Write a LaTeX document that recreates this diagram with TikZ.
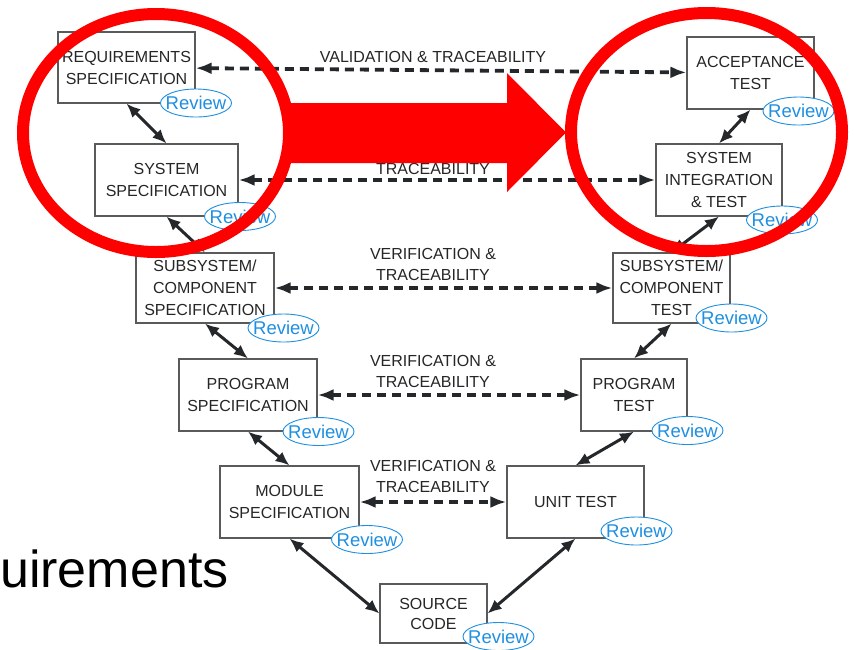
\documentclass[tikz,border=0pt]{standalone}
\usepackage{fontspec}
\setmainfont{Liberation Sans}
\usetikzlibrary{arrows.meta,calc,positioning,shapes.geometric}
\definecolor{vmink}{HTML}{262626}
\definecolor{vmframe}{HTML}{5A5A5A}
\definecolor{vmarrow}{HTML}{25282B}
\definecolor{vmreview}{HTML}{1E8FE1}
\definecolor{vmred}{HTML}{FF0000}
\newcommand{\revtag}{\makebox[0pt]{Review}}
\tikzset{
  stagebox/.style={draw=vmframe,fill=white,line width=1.1pt,minimum height=72pt,
    inner sep=0pt,align=center,text=vmink,font=\fontsize{16}{22}\selectfont},
  reviewtag/.style={ellipse,draw=vmreview,fill=white,line width=0.9pt,
    minimum width=71pt,minimum height=28pt,inner sep=0pt,text=vmreview,
    font=\fontsize{18.5}{20}\selectfont},
  linkarrow/.style={draw=vmarrow,line width=3pt,
    {Latex[length=14pt,width=12pt]}-{Latex[length=14pt,width=12pt]}},
  tracearrow/.style={draw=vmarrow,line width=3.8pt,dash pattern=on 9pt off 6pt,
    {Latex[length=16pt,width=12pt]}-{Latex[length=16pt,width=12pt]}},
  tracelabel/.style={inner sep=0pt,align=center,text=vmink,
    font=\fontsize{16}{21}\selectfont},
  focusring/.style={draw=vmred,line width=12pt},
}

\begin{document}
\begin{tikzpicture}[x=1pt,y=-1pt]
  \path[use as bounding box] (0,0) rectangle (854,649);
  % left leg
  \node[stagebox,minimum width=137pt,minimum height=71pt] (reqspec) at (126.5,67.5) {REQUIREMENTS\\SPECIFICATION};
  \node[stagebox,minimum width=143pt] (sysspec) at (166.5,180) {SYSTEM\\SPECIFICATION};
  \node[stagebox,minimum width=138pt,minimum height=70pt] (subspec) at (205,288) {SUBSYSTEM/\\COMPONENT\\SPECIFICATION};
  \node[stagebox,minimum width=138pt] (progspec) at (248,395) {PROGRAM\\SPECIFICATION};
  \node[stagebox,minimum width=139pt] (modspec) at (289.5,502) {MODULE\\SPECIFICATION};
  % bottom
  \node[stagebox,minimum width=107pt,minimum height=59pt,font=\fontsize{16}{20}\selectfont] (srccode) at (433.5,613.5) {SOURCE\\CODE};
  % right leg
  \node[stagebox,minimum width=127pt] (acctest) at (750.5,73) {ACCEPTANCE\\TEST};
  \node[stagebox,minimum width=126pt] (sysint) at (719,180) {SYSTEM\\INTEGRATION\\\& TEST};
  \node[stagebox,minimum width=117pt,minimum height=70pt] (subtest) at (671.5,288) {SUBSYSTEM/\\COMPONENT\\TEST};
  \node[stagebox,minimum width=106pt] (progtest) at (634,395) {PROGRAM\\TEST};
  \node[stagebox,minimum width=137pt] (unittest) at (575.5,502) {UNIT TEST};

  \foreach \i/\j in {reqspec.south/sysspec.north,sysspec.south/subspec.north,
      subspec.south/progspec.north,progspec.south/modspec.north,modspec.south/srccode.west,
      acctest.south/sysint.north,sysint.south/subtest.north,subtest.south/progtest.north,
      progtest.south/unittest.north,unittest.south/srccode.east}
    {\draw[linkarrow] (\i) -- (\j);}

  \draw[tracearrow] (reqspec) -- (acctest);
  \draw[tracearrow] (sysspec) -- (sysint);
  \draw[tracearrow] (subspec) -- (subtest);
  \draw[tracearrow] (progspec) -- (progtest);
  \draw[tracearrow] (modspec) -- (unittest);
  \node[tracelabel] (valtext) at (433,56.5) {VALIDATION \& TRACEABILITY};
  \node[tracelabel] (systext) at (433,169) {TRACEABILITY};
  \node[tracelabel] (subtext) at (433,264) {VERIFICATION \&\\TRACEABILITY};
  \node[tracelabel] (progtext) at (433,371) {VERIFICATION \&\\TRACEABILITY};
  \node[tracelabel] (modtext) at (433,476) {VERIFICATION \&\\TRACEABILITY};

  \foreach \n/\x/\y in {reqspec/196/103,sysspec/240/216.5,subspec/283.5/328,
      progspec/318.5/431.5,modspec/367/539.5,srccode/498.5/636.5,acctest/798.5/111,
      sysint/782/220,subtest/731.5/318,progtest/687.5/430.5,unittest/636.5/531}
    {\node[reviewtag] (\n-rev) at (\x,\y) {\revtag};}

  % highlight
  \fill[vmred] (289,103) -- (507,103) -- (507,73) -- (566,132.5) -- (507,192)
    -- (507,163) -- (289,163) -- cycle;
  \draw[focusring] (156,133) ellipse [x radius=133pt,y radius=119pt];
  \draw[focusring] (706.5,132) ellipse [x radius=135.5pt,y radius=119pt];

  \node[anchor=base west,inner sep=0pt,font=\fontsize{52}{60}\selectfont] (slidetext) at (0,587) {uirements};
\end{tikzpicture}
\end{document}
